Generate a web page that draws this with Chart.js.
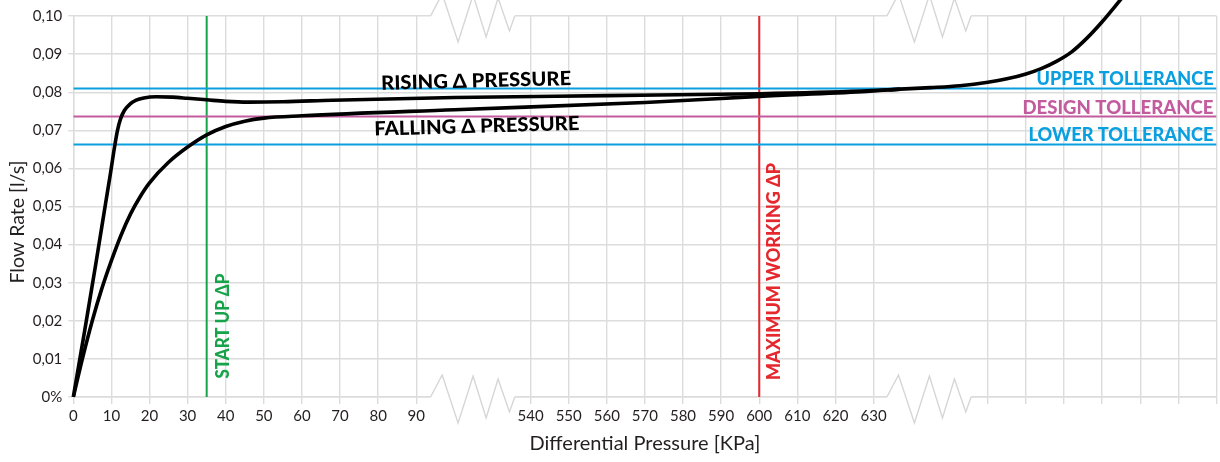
<!DOCTYPE html>
<html>
<head>
<meta charset="utf-8">
<script src="https://cdn.jsdelivr.net/npm/chart.js@4.4.0/dist/chart.umd.min.js"></script>
<style>
    html, body { margin: 0; padding: 0; background: #fff; }
</style>
</head>
<body>
<canvas id="flowChart" width="1220" height="462"></canvas>
<script>
// Axis position units: 10 per grid step. 0-90 are real kPa, 120-210 show 540-630.
const xTickLabels = ['0', '10', '20', '30', '40', '50', '60', '70', '80', '90', '', '',
    '540', '550', '560', '570', '580', '590', '600', '610', '620', '630',
    '', '', '', '', '', '', '', '', ''];
const hiddenGridIdx = [10, 11, 22, 23];
const yTickLabels = ['0%', '0,01', '0,02', '0,03', '0,04', '0,05', '0,06', '0,07', '0,08', '0,09', '0,10'];

// rising delta pressure curve (flow in l/s)
const risingPos = [0, 3, 6, 8.5, 9.8, 10.8, 11.6, 12.4, 13.4, 14.8, 16.5, 18.5, 21.8, 26, 30, 35, 40, 46, 55, 68,
    100, 140, 180, 207, 217, 225, 232.7, 240, 245, 250, 254, 258, 262, 266, 270, 275];
const risingFlow = [0, 0.0175, 0.0355, 0.051, 0.059, 0.0655, 0.0700, 0.0730, 0.0752, 0.0768, 0.0779, 0.0785, 0.0788, 0.0787, 0.0784, 0.0780, 0.0776, 0.0774, 0.0775, 0.0779,
    0.0786, 0.0791, 0.0796, 0.0803, 0.0808, 0.0812, 0.0817, 0.0826, 0.0835, 0.0848, 0.0862, 0.0881, 0.0906, 0.0942, 0.0985, 0.1045];

// falling delta pressure curve
const fallingPos = [0, 2.5, 5, 7.5, 10, 12.5, 15, 17.5, 20, 25, 30, 35, 40, 45, 50, 60, 100, 150, 180, 207, 217];
const fallingFlow = [0, 0.0105, 0.0201, 0.0285, 0.0358, 0.0424, 0.0480, 0.0525, 0.0562, 0.0616, 0.0656, 0.0688, 0.0710, 0.0724, 0.0732, 0.0738, 0.0754, 0.0773, 0.0789, 0.0801, 0.0808];

const upperTol = 0.0810;
const designTol = 0.0736;
const lowerTol = 0.0663;
const startUpPos = 35;      // 35 kPa
const maxWorkingPos = 180;  // 600 kPa

const GRID = '#dcdcdc';
const TEXT = '#231f20';
const BLUE = '#0a9fdf';
const PINK = '#c35c9f';
const GREEN = '#17a349';
const RED = '#e4282e';

function toPoints(xs, ys) {
    return xs.map((x, i) => ({ x: x, y: ys[i] }));
}

function hLine(value) {
    return [{ x: 0, y: value }, { x: 300, y: value }];
}

function vLine(pos) {
    return [{ x: pos, y: 0 }, { x: pos, y: 0.1 }];
}

// draws bold label squeezed to a given width, centred on cap height
function drawLabel(ctx, text, o) {
    ctx.save();
    ctx.font = '900 ' + o.size + 'px Lato, sans-serif';
    const w = ctx.measureText(text).width;
    ctx.translate(o.x, o.y);
    ctx.rotate(o.angle || 0);
    ctx.scale(o.width / w, 1);
    ctx.fillStyle = o.color;
    ctx.textAlign = o.align || 'center';
    ctx.textBaseline = 'alphabetic';
    ctx.fillText(text, 0, o.size * 0.36);
    ctx.restore();
}

// zigzag break marks, start in axis units, shape as fraction of width / px offsets
const breakStarts = [93.75, 213.5];
const zigX = [0, 0.138, 0.327, 0.505, 0.66, 0.802, 0.937, 1];
const zigY = [0, -22, 26, -21, 21, -18, 15, 0];

const decorPlugin = {
    id: 'decor',
    afterDraw(chart) {
        const ctx = chart.ctx;
        const xs = chart.scales.x;
        const ys = chart.scales.y;
        const area = chart.chartArea;

        // axis breaks
        breakStarts.forEach(b => {
            const x0 = xs.getPixelForValue(b);
            const w = xs.getPixelForValue(b + 22.1) - x0;
            [area.top, area.bottom].forEach(yb => {
                ctx.save();
                ctx.fillStyle = '#fff';
                ctx.fillRect(x0, yb - 2, w, 4);
                ctx.strokeStyle = '#d6d6d6';
                ctx.lineWidth = 1.4;
                ctx.lineJoin = 'miter';
                ctx.beginPath();
                zigX.forEach((f, i) => {
                    const px = x0 + f * w;
                    const py = yb + zigY[i];
                    if (i === 0) ctx.moveTo(px, py); else ctx.lineTo(px, py);
                });
                ctx.stroke();
                ctx.restore();
            });
        });

        // curve labels
        drawLabel(ctx, 'RISING Δ PRESSURE', {
            x: xs.getPixelForValue(105.7), y: ys.getPixelForValue(0.0831),
            angle: -0.025, size: 19.5, width: 190, color: '#000'
        });
        drawLabel(ctx, 'FALLING Δ PRESSURE', {
            x: xs.getPixelForValue(105.9), y: ys.getPixelForValue(0.0712),
            angle: -0.028, size: 19.5, width: 205, color: '#000'
        });

        // tolerance labels
        const right = area.right - 3;
        drawLabel(ctx, 'UPPER TOLLERANCE', {
            x: right, y: ys.getPixelForValue(upperTol) - 10, size: 18.5, width: 177, color: BLUE, align: 'right'
        });
        drawLabel(ctx, 'DESIGN TOLLERANCE', {
            x: right, y: ys.getPixelForValue(designTol) - 9.5, size: 18.5, width: 191, color: PINK, align: 'right'
        });
        drawLabel(ctx, 'LOWER TOLLERANCE', {
            x: right, y: ys.getPixelForValue(lowerTol) - 9.7, size: 18.5, width: 185, color: BLUE, align: 'right'
        });

        // vertical labels
        drawLabel(ctx, 'START UP ΔP', {
            x: xs.getPixelForValue(startUpPos) + 15.3, y: area.bottom - 18.4,
            angle: -Math.PI / 2, size: 18.5, width: 105, color: GREEN, align: 'left'
        });
        drawLabel(ctx, 'MAXIMUM WORKING ΔP', {
            x: xs.getPixelForValue(maxWorkingPos) + 13.7, y: area.bottom - 17,
            angle: -Math.PI / 2, size: 19.5, width: 217, color: RED, align: 'left'
        });

        // y axis title
        ctx.save();
        ctx.translate(18, 222);
        ctx.rotate(-Math.PI / 2);
        ctx.font = '19.5px Lato, sans-serif';
        ctx.fillStyle = TEXT;
        ctx.textAlign = 'center';
        ctx.textBaseline = 'middle';
        ctx.fillText('Flow Rate [l/s]', 0, 0);
        ctx.restore();
    }
};

const ctx = document.getElementById('flowChart').getContext('2d');

const flowChart = new Chart(ctx, {
    type: 'line',
    data: {
        datasets: [
            {
                label: 'Rising',
                data: toPoints(risingPos, risingFlow),
                borderColor: '#000',
                borderWidth: 3.6,
                cubicInterpolationMode: 'monotone',
                clip: false
            },
            {
                label: 'Falling',
                data: toPoints(fallingPos, fallingFlow),
                borderColor: '#000',
                borderWidth: 3.6,
                cubicInterpolationMode: 'monotone'
            },
            { label: 'Upper', data: hLine(upperTol), borderColor: BLUE, borderWidth: 2 },
            { label: 'Design', data: hLine(designTol), borderColor: PINK, borderWidth: 2 },
            { label: 'Lower', data: hLine(lowerTol), borderColor: BLUE, borderWidth: 2 },
            { label: 'Start up', data: vLine(startUpPos), borderColor: GREEN, borderWidth: 2 },
            { label: 'Max working', data: vLine(maxWorkingPos), borderColor: RED, borderWidth: 2 }
        ]
    },
    options: {
        responsive: false,
        animation: false,
        events: [],
        elements: {
            point: { radius: 0 },
            line: { fill: false, tension: 0 }
        },
        layout: {
            padding: { top: 16, right: 3.5, left: 0, bottom: 0 }
        },
        plugins: {
            legend: { display: false },
            tooltip: { enabled: false }
        },
        scales: {
            x: {
                type: 'linear',
                min: 0,
                max: 300,
                afterBuildTicks: function (scale) {
                    scale.ticks = xTickLabels.map((_, i) => ({ value: i * 10 }));
                },
                afterFit: function (scale) {
                    scale.height = 65;
                },
                ticks: {
                    autoSkip: false,
                    maxRotation: 0,
                    padding: 3,
                    color: TEXT,
                    font: { family: 'Lato', size: 15 },
                    callback: function (value) {
                        return xTickLabels[Math.round(value / 10)];
                    }
                },
                grid: {
                    color: function (c) {
                        return hiddenGridIdx.includes(c.index) ? 'rgba(0,0,0,0)' : GRID;
                    },
                    lineWidth: 1.4,
                    tickLength: 7
                },
                border: { color: GRID, width: 1.4 },
                title: {
                    display: true,
                    text: 'Differential Pressure [KPa]',
                    color: TEXT,
                    font: { family: 'Lato', size: 20 },
                    padding: { top: 0, bottom: 6 }
                }
            },
            y: {
                min: 0,
                max: 0.1,
                afterBuildTicks: function (scale) {
                    scale.ticks = yTickLabels.map((_, i) => ({ value: i / 100 }));
                },
                afterFit: function (scale) {
                    scale.width = 73.3;
                },
                ticks: {
                    padding: 6,
                    color: TEXT,
                    font: { family: 'Lato', size: 15 },
                    callback: function (value, index) {
                        return yTickLabels[index];
                    }
                },
                grid: {
                    color: GRID,
                    lineWidth: 1.4,
                    tickLength: 5
                },
                border: { color: GRID, width: 1.4 }
            }
        }
    },
    plugins: [decorPlugin]
});
</script>
</body>
</html>
